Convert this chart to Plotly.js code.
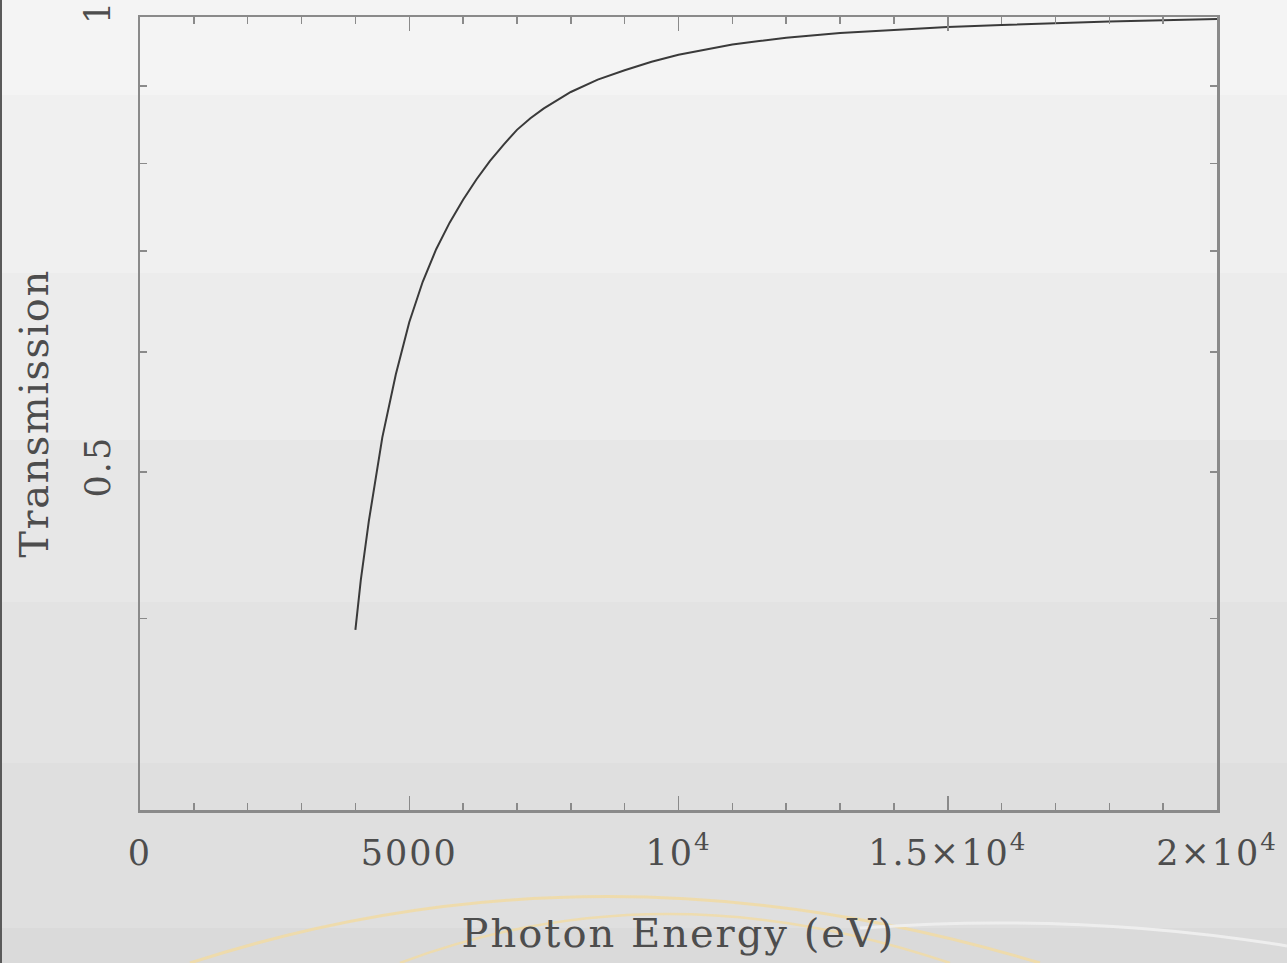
<!DOCTYPE html>
<html>
<head>
<meta charset="utf-8">
<script src="https://cdn.plot.ly/plotly-3.0.1.min.js"></script>
<style>
  html, body { margin: 0; padding: 0; }
  body {
    width: 1287px; height: 963px; overflow: hidden; position: relative;
    background: linear-gradient(to bottom,
      #f4f4f4 0px, #f4f4f4 95px,
      #f0f0f0 95px, #f0f0f0 273px,
      #ececec 273px, #ececec 440px,
      #e7e7e7 440px, #e7e7e7 602px,
      #e3e3e3 602px, #e3e3e3 763px,
      #dfdfdf 763px, #dfdfdf 928px,
      #dadada 928px, #dadada 963px);
  }
  #deco { position: absolute; left: 0; top: 0; width: 1287px; height: 963px; }
  #chart { position: absolute; left: 0; top: 0; width: 1287px; height: 963px; }
  #edge { position: absolute; left: 0; top: 0; width: 2px; height: 963px; background: #5a5a5a; }
  .xtitle { letter-spacing: 2px; }
  .ytitle { letter-spacing: 1.5px; }
  .xtick text, .ytick text { letter-spacing: 2px; }
</style>
</head>
<body>
<svg id="deco" viewBox="0 0 1287 963">
  <path d="M 190 963 Q 600 830 1040 963" fill="none" stroke="#f1dba3" stroke-width="3" opacity="0.85"/>
  <path d="M 400 963 Q 660 865 950 963" fill="none" stroke="#f1dba3" stroke-width="2.5" opacity="0.8"/>
  <path d="M 860 928 Q 1080 912 1287 946" fill="none" stroke="#efefef" stroke-width="3" opacity="0.9"/>
</svg>
<div id="edge"></div>
<div id="chart"></div>
<script>
// Photon energy (eV) and transmission
const energy = [4000, 4100, 4250, 4500, 4750, 5000, 5250, 5500, 5750, 6000,
                6250, 6500, 6750, 7000, 7250, 7500, 8000, 8500, 9000, 9500,
                10000, 10500, 11000, 11500, 12000, 13000, 14000, 15000, 16000, 17000,
                18000, 19000, 20000];
const transmission = [0.393, 0.424, 0.464, 0.527, 0.580, 0.628, 0.668, 0.702, 0.731, 0.757,
                      0.781, 0.803, 0.823, 0.842, 0.857, 0.870, 0.892, 0.909, 0.922, 0.934,
                      0.944, 0.952, 0.959, 0.964, 0.969, 0.976, 0.981, 0.985, 0.988, 0.991,
                      0.993, 0.995, 0.997];

const xTickVals = [0, 5000, 10000, 15000, 20000];
const xTickText = ['0', '5000', '10<sup>4</sup>', '1.5×10<sup>4</sup>', '2×10<sup>4</sup>'];
const yTickVals = [0.4, 0.5, 0.6, 0.7, 0.8, 0.9, 1];
const yTickText = ['', '0.5', '', '', '', '', '1'];

const axisColor = '#8a8a8a';
const textColor = '#4d4d4d';
const fontFamily = '"DejaVu Serif", "Liberation Serif", serif';

const trace = {
  x: energy, y: transmission, type: 'scatter', mode: 'lines',
  line: {color: '#3a3a3a', width: 2, shape: 'linear'},
  hoverinfo: 'skip', showlegend: false
};

const layout = {
  width: 1287, height: 963,
  margin: {l: 140, r: 70, t: 17, b: 153},
  paper_bgcolor: 'rgba(0,0,0,0)',
  plot_bgcolor: 'rgba(0,0,0,0)',
  font: {family: fontFamily, color: textColor},
  xaxis: {
    range: [0, 20000],
    tickmode: 'array', tickvals: xTickVals, ticktext: xTickText,
    ticks: 'inside', ticklen: 14, tickwidth: 1.5, tickcolor: axisColor,
    minor: {dtick: 1000, tick0: 0, ticks: 'inside', ticklen: 7, tickwidth: 1.5, tickcolor: axisColor, showgrid: false},
    showline: true, linecolor: axisColor, linewidth: 2.5, mirror: 'ticks',
    showgrid: false, zeroline: false,
    tickfont: {family: fontFamily, size: 35, color: textColor},
    ticklabelstandoff: 10,
    ticklabeloverflow: 'allow',
    title: {text: 'Photon Energy (eV)', font: {family: fontFamily, size: 40, color: textColor}, standoff: 48}
  },
  yaxis: {
    type: 'log',
    range: [-0.5248, 0],
    tickmode: 'array', tickvals: yTickVals, ticktext: yTickText,
    ticks: 'inside', ticklen: 7, tickwidth: 1.5, tickcolor: axisColor,
    tickangle: -90,
    showline: true, linecolor: axisColor, linewidth: 2.5, mirror: 'ticks',
    showgrid: false, zeroline: false,
    tickfont: {family: fontFamily, size: 35, color: textColor},
    ticklabelstandoff: 14,
    ticklabeloverflow: 'allow',
    title: {text: 'Transmission', font: {family: fontFamily, size: 40, color: textColor}, standoff: 17}
  }
};

Plotly.newPlot('chart', [trace], layout, {displayModeBar: false, staticPlot: true});
</script>
</body>
</html>
